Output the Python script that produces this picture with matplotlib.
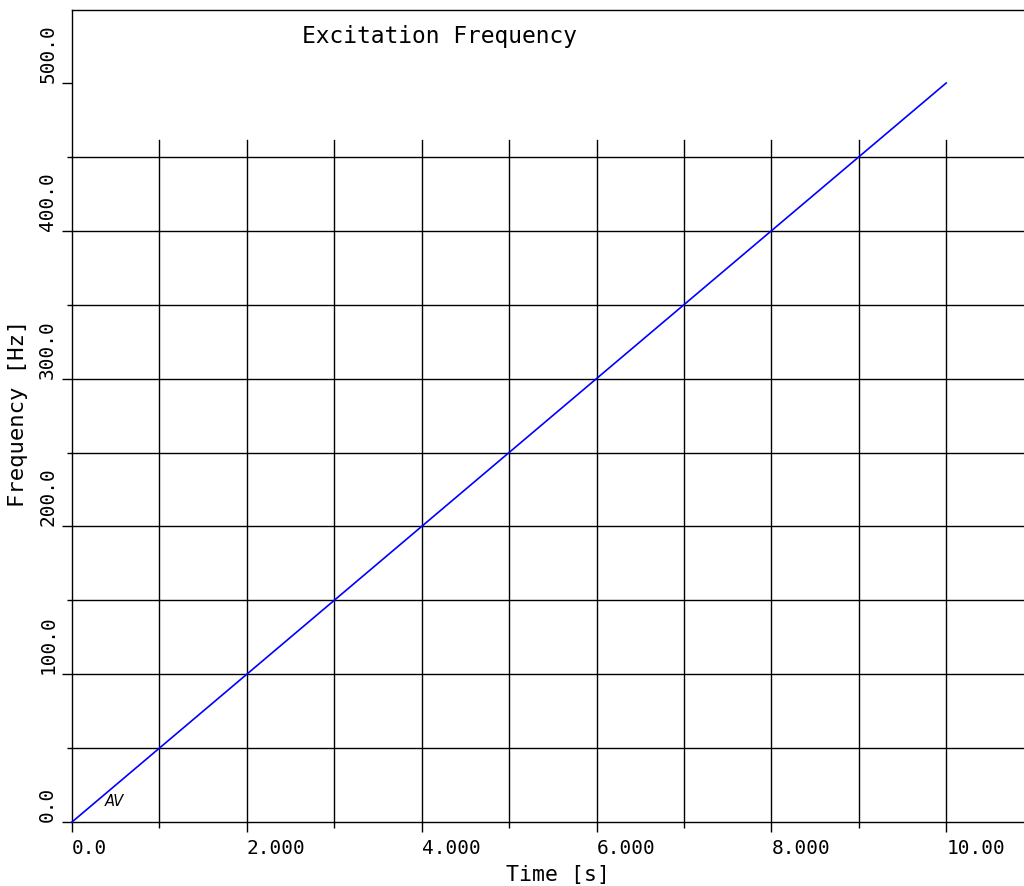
import matplotlib
matplotlib.use("Agg")
import matplotlib.pyplot as plt
import numpy as np
from matplotlib.ticker import FixedLocator

# Data
time_s = [0.0, 10.0]
freq_hz = [0.0, 500.0]
x_major = [0, 2, 4, 6, 8, 10]
x_labels = ["0.0", "2.000", "4.000", "6.000", "8.000", "10.00"]
x_minor = [1, 3, 5, 7, 9]
y_major = [0, 100, 200, 300, 400, 500]
y_labels = ["0.0", "100.0", "200.0", "300.0", "400.0", "500.0"]
y_minor = [50, 150, 250, 350, 450]
h_grid = [0, 50, 100, 150, 200, 250, 300, 350, 400, 450]
v_grid = [1, 2, 3, 4, 5, 6, 7, 8, 9, 10]
v_grid_top = 461.5

FONT = "DejaVu Sans Mono"

fig = plt.figure(figsize=(10.24, 8.86), dpi=100)
ax = fig.add_axes([72/1024, 64/886, 952/1024, 812/886])
ax.set_xlim(0, 10.89)
ax.set_ylim(0, 549.4)

# grid
for y in h_grid:
    ax.axhline(y, color="black", lw=1.0, zorder=1, clip_on=False)
for x in v_grid:
    ax.plot([x, x], [0, v_grid_top], color="black", lw=1.0, zorder=1, clip_on=False)

ax.plot(time_s, freq_hz, color="#0000ff", lw=1.2, zorder=3, clip_on=False)

for s in ["right", "bottom"]:
    ax.spines[s].set_visible(False)
for s in ["left", "top"]:
    ax.spines[s].set_linewidth(1.0)
    ax.spines[s].set_color("black")

ax.xaxis.set_major_locator(FixedLocator(x_major))
ax.xaxis.set_minor_locator(FixedLocator(x_minor))
ax.yaxis.set_major_locator(FixedLocator(y_major))
ax.yaxis.set_minor_locator(FixedLocator(y_minor))
ax.tick_params(axis="x", which="major", length=7.5, width=1.0, direction="out", labelbottom=False)
ax.tick_params(axis="x", which="minor", length=4.5, width=1.0, direction="out")
ax.tick_params(axis="y", which="major", length=7.5, width=1.0, direction="out", labelleft=False)
ax.tick_params(axis="y", which="minor", length=3.8, width=1.0, direction="out")

bt = ax.get_xaxis_transform()
for x, lab in zip(x_major, x_labels):
    ax.text(x, -0.021, lab, transform=bt, ha="left", va="top", fontsize=14,
            family=FONT, color="black")
lt = ax.get_yaxis_transform()
for y, lab in zip(y_major, y_labels):
    ax.text(-0.0155, y, lab, transform=lt, rotation=90, ha="right", va="bottom",
            fontsize=14, family=FONT, color="black")

fig.text(558/1024, 1 - 875/886, "Time [s]", ha="center", va="center",
         fontsize=15.5, family=FONT)
fig.text(18/1024, 1 - 413/886, "Frequency [Hz]", ha="center", va="center",
         rotation=90, fontsize=16, family=FONT)
fig.text(440/1024, 1 - 37/886, "Excitation Frequency", ha="center", va="center",
         fontsize=16.5, family=FONT)
ax.text(0.37, 14, "AV", fontsize=10.5, style="italic", family="DejaVu Sans",
        ha="left", va="center")

fig.savefig("out.png", dpi=100)
